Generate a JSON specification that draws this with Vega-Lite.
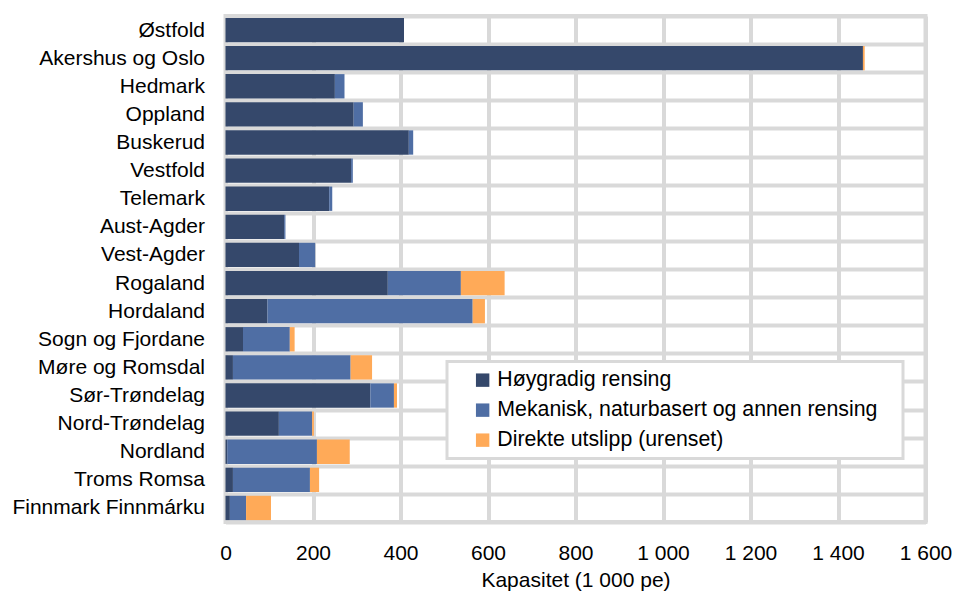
{
  "$schema": "https://vega.github.io/schema/vega-lite/v6.json",
  "width": 700,
  "height": 506,
  "autosize": {"type": "none"},
  "padding": {"left": 225.5, "top": 16, "right": 31.5, "bottom": 70},
  "background": "white",
  "config": {
    "view": {"stroke": "#d9d9d9", "strokeWidth": 4},
    "font": "Liberation Sans"
  },
  "data": {
    "values": [
      {"fylke": "Østfold", "type": "Høygradig rensing", "rekkefolge": 1, "verdi": 408},
      {"fylke": "Østfold", "type": "Mekanisk, naturbasert og annen rensing", "rekkefolge": 2, "verdi": 0},
      {"fylke": "Østfold", "type": "Direkte utslipp (urenset)", "rekkefolge": 3, "verdi": 0},
      {"fylke": "Akershus og Oslo", "type": "Høygradig rensing", "rekkefolge": 1, "verdi": 1457},
      {"fylke": "Akershus og Oslo", "type": "Mekanisk, naturbasert og annen rensing", "rekkefolge": 2, "verdi": 0},
      {"fylke": "Akershus og Oslo", "type": "Direkte utslipp (urenset)", "rekkefolge": 3, "verdi": 4},
      {"fylke": "Hedmark", "type": "Høygradig rensing", "rekkefolge": 1, "verdi": 250},
      {"fylke": "Hedmark", "type": "Mekanisk, naturbasert og annen rensing", "rekkefolge": 2, "verdi": 22},
      {"fylke": "Hedmark", "type": "Direkte utslipp (urenset)", "rekkefolge": 3, "verdi": 0},
      {"fylke": "Oppland", "type": "Høygradig rensing", "rekkefolge": 1, "verdi": 293},
      {"fylke": "Oppland", "type": "Mekanisk, naturbasert og annen rensing", "rekkefolge": 2, "verdi": 21},
      {"fylke": "Oppland", "type": "Direkte utslipp (urenset)", "rekkefolge": 3, "verdi": 0},
      {"fylke": "Buskerud", "type": "Høygradig rensing", "rekkefolge": 1, "verdi": 419},
      {"fylke": "Buskerud", "type": "Mekanisk, naturbasert og annen rensing", "rekkefolge": 2, "verdi": 10},
      {"fylke": "Buskerud", "type": "Direkte utslipp (urenset)", "rekkefolge": 3, "verdi": 0},
      {"fylke": "Vestfold", "type": "Høygradig rensing", "rekkefolge": 1, "verdi": 287},
      {"fylke": "Vestfold", "type": "Mekanisk, naturbasert og annen rensing", "rekkefolge": 2, "verdi": 4},
      {"fylke": "Vestfold", "type": "Direkte utslipp (urenset)", "rekkefolge": 3, "verdi": 0},
      {"fylke": "Telemark", "type": "Høygradig rensing", "rekkefolge": 1, "verdi": 237},
      {"fylke": "Telemark", "type": "Mekanisk, naturbasert og annen rensing", "rekkefolge": 2, "verdi": 7},
      {"fylke": "Telemark", "type": "Direkte utslipp (urenset)", "rekkefolge": 3, "verdi": 0},
      {"fylke": "Aust-Agder", "type": "Høygradig rensing", "rekkefolge": 1, "verdi": 134},
      {"fylke": "Aust-Agder", "type": "Mekanisk, naturbasert og annen rensing", "rekkefolge": 2, "verdi": 3},
      {"fylke": "Aust-Agder", "type": "Direkte utslipp (urenset)", "rekkefolge": 3, "verdi": 0},
      {"fylke": "Vest-Agder", "type": "Høygradig rensing", "rekkefolge": 1, "verdi": 168},
      {"fylke": "Vest-Agder", "type": "Mekanisk, naturbasert og annen rensing", "rekkefolge": 2, "verdi": 37},
      {"fylke": "Vest-Agder", "type": "Direkte utslipp (urenset)", "rekkefolge": 3, "verdi": 0},
      {"fylke": "Rogaland", "type": "Høygradig rensing", "rekkefolge": 1, "verdi": 371},
      {"fylke": "Rogaland", "type": "Mekanisk, naturbasert og annen rensing", "rekkefolge": 2, "verdi": 167},
      {"fylke": "Rogaland", "type": "Direkte utslipp (urenset)", "rekkefolge": 3, "verdi": 100},
      {"fylke": "Hordaland", "type": "Høygradig rensing", "rekkefolge": 1, "verdi": 96},
      {"fylke": "Hordaland", "type": "Mekanisk, naturbasert og annen rensing", "rekkefolge": 2, "verdi": 469},
      {"fylke": "Hordaland", "type": "Direkte utslipp (urenset)", "rekkefolge": 3, "verdi": 28},
      {"fylke": "Sogn og Fjordane", "type": "Høygradig rensing", "rekkefolge": 1, "verdi": 40},
      {"fylke": "Sogn og Fjordane", "type": "Mekanisk, naturbasert og annen rensing", "rekkefolge": 2, "verdi": 107},
      {"fylke": "Sogn og Fjordane", "type": "Direkte utslipp (urenset)", "rekkefolge": 3, "verdi": 11},
      {"fylke": "Møre og Romsdal", "type": "Høygradig rensing", "rekkefolge": 1, "verdi": 17},
      {"fylke": "Møre og Romsdal", "type": "Mekanisk, naturbasert og annen rensing", "rekkefolge": 2, "verdi": 269},
      {"fylke": "Møre og Romsdal", "type": "Direkte utslipp (urenset)", "rekkefolge": 3, "verdi": 49},
      {"fylke": "Sør-Trøndelag", "type": "Høygradig rensing", "rekkefolge": 1, "verdi": 331},
      {"fylke": "Sør-Trøndelag", "type": "Mekanisk, naturbasert og annen rensing", "rekkefolge": 2, "verdi": 54},
      {"fylke": "Sør-Trøndelag", "type": "Direkte utslipp (urenset)", "rekkefolge": 3, "verdi": 7},
      {"fylke": "Nord-Trøndelag", "type": "Høygradig rensing", "rekkefolge": 1, "verdi": 122},
      {"fylke": "Nord-Trøndelag", "type": "Mekanisk, naturbasert og annen rensing", "rekkefolge": 2, "verdi": 76},
      {"fylke": "Nord-Trøndelag", "type": "Direkte utslipp (urenset)", "rekkefolge": 3, "verdi": 4},
      {"fylke": "Nordland", "type": "Høygradig rensing", "rekkefolge": 1, "verdi": 4},
      {"fylke": "Nordland", "type": "Mekanisk, naturbasert og annen rensing", "rekkefolge": 2, "verdi": 205},
      {"fylke": "Nordland", "type": "Direkte utslipp (urenset)", "rekkefolge": 3, "verdi": 75},
      {"fylke": "Troms Romsa", "type": "Høygradig rensing", "rekkefolge": 1, "verdi": 17},
      {"fylke": "Troms Romsa", "type": "Mekanisk, naturbasert og annen rensing", "rekkefolge": 2, "verdi": 176},
      {"fylke": "Troms Romsa", "type": "Direkte utslipp (urenset)", "rekkefolge": 3, "verdi": 21},
      {"fylke": "Finnmark Finnmárku", "type": "Høygradig rensing", "rekkefolge": 1, "verdi": 10},
      {"fylke": "Finnmark Finnmárku", "type": "Mekanisk, naturbasert og annen rensing", "rekkefolge": 2, "verdi": 37},
      {"fylke": "Finnmark Finnmárku", "type": "Direkte utslipp (urenset)", "rekkefolge": 3, "verdi": 57}
    ]
  },
  "mark": {"type": "bar", "height": {"band": 0.865}},
  "encoding": {
    "y": {
      "field": "fylke",
      "type": "nominal",
      "sort": null,
      "scale": {"paddingInner": 0, "paddingOuter": 0},
      "axis": {
        "title": null,
        "domain": false,
        "ticks": false,
        "grid": true,
        "tickBand": "extent",
        "gridColor": "#d9d9d9",
        "gridWidth": 4,
        "labelFont": "Liberation Sans",
        "labelFontSize": 21,
        "labelColor": "#000000",
        "labelPadding": 21,
        "labelLimit": 320
      }
    },
    "x": {
      "field": "verdi",
      "type": "quantitative",
      "stack": "zero",
      "scale": {"domain": [0, 1600], "nice": false},
      "axis": {
        "values": [0, 200, 400, 600, 800, 1000, 1200, 1400, 1600],
        "labelExpr": "replace(format(datum.value, ','), ',', ' ')",
        "title": "Kapasitet (1 000 pe)",
        "titleFont": "Liberation Sans",
        "titleFontSize": 21,
        "titleFontWeight": "normal",
        "titleColor": "#000000",
        "titlePadding": 6,
        "domain": false,
        "ticks": false,
        "grid": true,
        "gridColor": "#d9d9d9",
        "gridWidth": 4,
        "labelFont": "Liberation Sans",
        "labelFontSize": 21,
        "labelColor": "#000000",
        "labelPadding": 20,
        "labelFlush": false
      }
    },
    "color": {
      "field": "type",
      "type": "nominal",
      "scale": {
        "domain": ["Høygradig rensing", "Mekanisk, naturbasert og annen rensing", "Direkte utslipp (urenset)"],
        "range": ["#35486B", "#4F6EA4", "#FFAA58"]
      },
      "legend": {
        "title": "\u00a0",
        "titleOrient": "right",
        "titleFontSize": 2,
        "titlePadding": 18,
        "orient": "none",
        "legendX": 221.5,
        "legendY": 345.5,
        "fillColor": "#ffffff",
        "strokeColor": "#d9d9d9",
        "padding": 8,
        "symbolOffset": 17,
        "symbolType": "square",
        "symbolSize": 180,
        "symbolStrokeWidth": 0,
        "labelFont": "Liberation Sans",
        "labelFontSize": 21.3,
        "labelColor": "#000000",
        "labelOffset": 4,
        "labelLimit": 600,
        "rowPadding": 8,
        "encode": {"legend": {"update": {"strokeWidth": {"value": 3}}}}
      }
    },
    "order": {"field": "rekkefolge"}
  }
}
